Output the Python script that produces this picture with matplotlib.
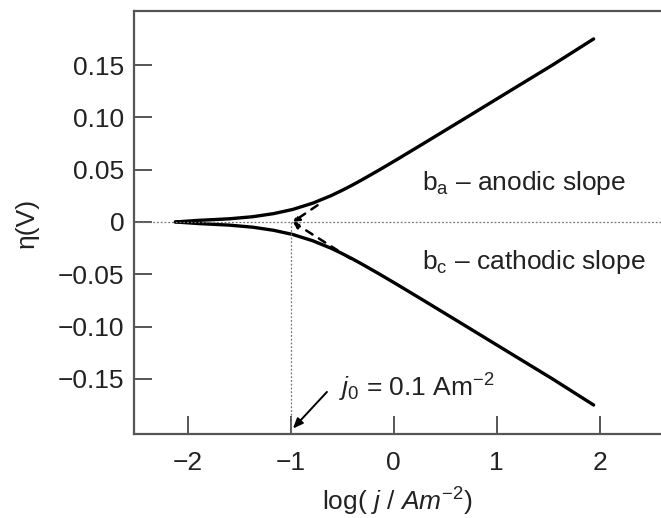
import matplotlib
matplotlib.use("Agg")
import matplotlib.pyplot as plt

# overpotential (V) against log current density
eta_anodic = [0.0, 0.0015, 0.003, 0.005, 0.008, 0.012, 0.018, 0.025, 0.030, 0.035,
              0.040, 0.050, 0.060, 0.075, 0.100, 0.125, 0.150, 0.175]
logj_anodic = [-2.12, -1.90, -1.60, -1.37, -1.165, -0.98, -0.786, -0.612, -0.506, -0.407,
               -0.314, -0.136, 0.036, 0.289, 0.707, 1.123, 1.54, 1.94]
eta_cathodic = [-0.0, -0.0015, -0.003, -0.005, -0.008, -0.012, -0.018, -0.025, -0.030, -0.035,
                -0.040, -0.050, -0.060, -0.075, -0.100, -0.125, -0.150, -0.175]
logj_cathodic = [-2.12, -1.90, -1.60, -1.37, -1.165, -0.98, -0.786, -0.612, -0.506, -0.407,
                 -0.314, -0.136, 0.036, 0.289, 0.707, 1.123, 1.54, 1.94]

log_j0 = -1.0
tafel_a_end = (-0.74, 0.016)
tafel_c_end = (-0.42, -0.035)

xticks = [-2, -1, 0, 1, 2]
xticklabels = ["\u22122", "\u22121", "0", "1", "2"]
yticks = [0.15, 0.10, 0.05, 0, -0.05, -0.10, -0.15]
yticklabels = ["0.15", "0.10", "0.05", "0", "\u22120.05", "\u22120.10", "\u22120.15"]

plt.rcParams['font.family'] = ['Liberation Sans', 'DejaVu Sans']
plt.rcParams['mathtext.fontset'] = 'custom'
plt.rcParams['mathtext.rm'] = 'Liberation Sans'
plt.rcParams['mathtext.it'] = 'Liberation Sans:italic'

fs = 19
spine_col = '#555555'
text_col = '#222222'
minus = "\u2212"

fig = plt.figure(figsize=(6.61, 5.18), dpi=100)
ax = fig.add_axes([0.2027, 0.1622, 0.7973, 0.8166])

ax.plot(logj_anodic, eta_anodic, color='black', lw=2.4, solid_capstyle='round')
ax.plot(logj_cathodic, eta_cathodic, color='black', lw=2.4, solid_capstyle='round')

# reference lines
ax.axhline(0, color='#777777', lw=0.9, ls=(0, (1.5, 1.5)))
ax.plot([log_j0, log_j0], [0, -0.21], color='#777777', lw=0.9, ls=(0, (1.5, 1.5)))

# Tafel extrapolations back to j0
for end in (tafel_a_end, tafel_c_end):
    ax.annotate("", xy=(log_j0 + 0.02, 0), xytext=end,
                arrowprops=dict(arrowstyle='-|>,head_length=0.35,head_width=0.18',
                                color='black', lw=1.8, ls=(0, (3, 3)),
                                shrinkA=0, shrinkB=0))

ax.text(0.27, 0.037, "b$_\\mathregular{a}$ \u2013 anodic slope",
        fontsize=fs, va='center', ha='left', color=text_col)
ax.text(0.27, -0.038, "b$_\\mathregular{c}$ \u2013 cathodic slope",
        fontsize=fs, va='center', ha='left', color=text_col)

ax.text(-0.53, -0.159, "$j_\\mathregular{0}$ = 0.1 Am$^{\\mathregular{" + minus + "2}}$",
        fontsize=fs, va='center', ha='left', color=text_col)
ax.annotate("", xy=(-0.979, -0.1975), xytext=(-0.649, -0.1625),
            arrowprops=dict(arrowstyle='-|>,head_length=0.6,head_width=0.25',
                            color='black', lw=1.4, shrinkA=0, shrinkB=0))

ax.set_xlim(-2.522, 2.594)
ax.set_ylim(-0.2027, 0.2017)
ax.set_xticks(xticks)
ax.set_xticklabels(xticklabels)
ax.set_yticks(yticks)
ax.set_yticklabels(yticklabels)
ax.tick_params(direction='in', length=13, width=1.4, color=spine_col,
               labelsize=fs, labelcolor=text_col)
ax.tick_params(axis='x', pad=12)
ax.tick_params(axis='y', pad=7)

for side in ('left', 'bottom', 'top'):
    ax.spines[side].set_color(spine_col)
    ax.spines[side].set_linewidth(1.6)
ax.spines['right'].set_visible(False)

ax.set_ylabel("\u03b7(V)", fontsize=fs, color=text_col, labelpad=14)
ax.set_xlabel("log( $j$ / $Am^{" + minus + "2}$)",
              fontsize=fs, color=text_col, labelpad=8)

fig.savefig("out.png", dpi=100)
